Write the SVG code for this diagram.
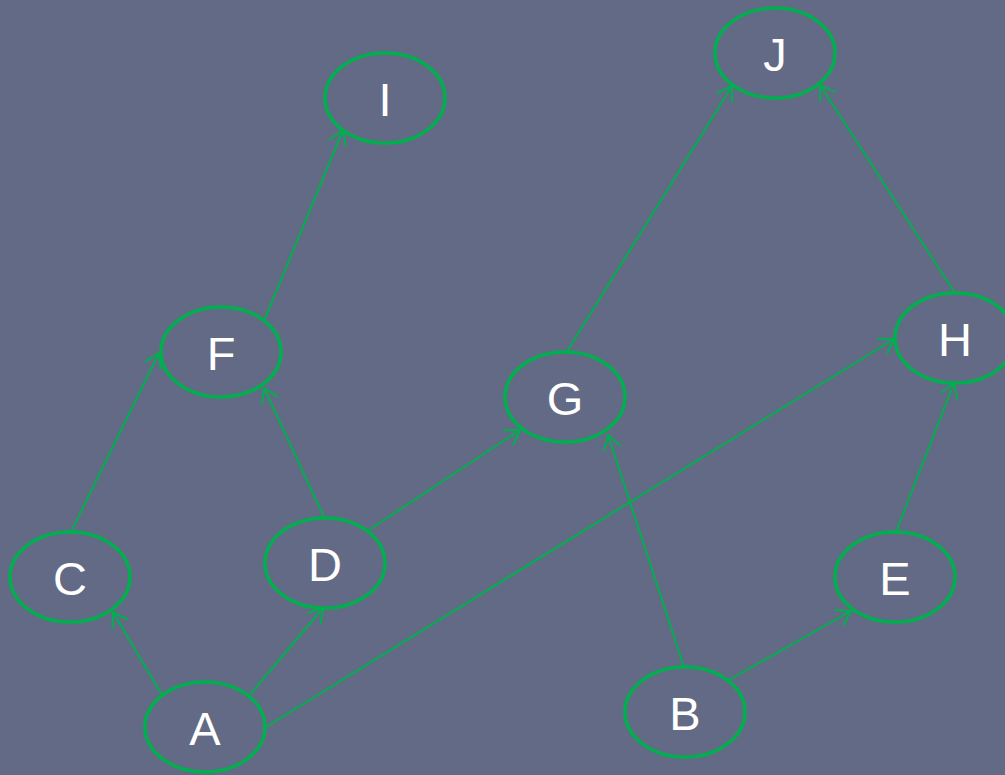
<svg xmlns="http://www.w3.org/2000/svg" width="1005" height="775" viewBox="0 0 1005 775">
<style>
.node ellipse{fill:none;stroke:#00b04f;stroke-width:3.5}
.node text{fill:#ffffff;font-family:"Liberation Sans",Arial,sans-serif;font-size:47px;text-anchor:middle}
.edge{fill:none;stroke:#00b04f;stroke-width:2;marker-end:url(#arr)}
</style>
<defs>
<marker id="arr" viewBox="-16 -11 18 22" refX="0" refY="0" markerUnits="userSpaceOnUse" markerWidth="18" markerHeight="22" orient="auto">
<path d="M-13.5,-8.5 L0,0 L-13.5,8.5" fill="none" stroke="#00b04f" stroke-width="2" stroke-linejoin="round" stroke-linecap="round"/>
</marker>
</defs>
<rect width="1005" height="775" fill="#636a85"/>
<g id="connectors">
<line class="edge" x1="162" y1="695" x2="113" y2="612"/>
<line class="edge" x1="248" y1="697" x2="323" y2="608"/>
<line class="edge" x1="266" y1="727" x2="894" y2="339"/>
<line class="edge" x1="71" y1="532" x2="159" y2="353"/>
<line class="edge" x1="324" y1="517" x2="264" y2="388"/>
<line class="edge" x1="369" y1="530" x2="520" y2="430"/>
<line class="edge" x1="264" y1="321" x2="343" y2="130"/>
<line class="edge" x1="566" y1="353" x2="732" y2="86"/>
<line class="edge" x1="684" y1="667" x2="608" y2="435"/>
<line class="edge" x1="729" y1="680" x2="851" y2="611"/>
<line class="edge" x1="896" y1="532" x2="954" y2="383"/>
<line class="edge" x1="955" y1="293" x2="820" y2="85"/>
</g>
<g id="node-A" class="node"><ellipse cx="205" cy="727" rx="60" ry="45"/><text x="205" y="745">A</text></g>
<g id="node-B" class="node"><ellipse cx="685" cy="712" rx="60" ry="45"/><text x="685" y="730">B</text></g>
<g id="node-C" class="node"><ellipse cx="70" cy="577" rx="60" ry="45"/><text x="70" y="595">C</text></g>
<g id="node-D" class="node"><ellipse cx="325" cy="563" rx="60" ry="45"/><text x="325" y="581">D</text></g>
<g id="node-E" class="node"><ellipse cx="895" cy="577" rx="60" ry="45"/><text x="895" y="595">E</text></g>
<g id="node-F" class="node"><ellipse cx="221" cy="352" rx="60" ry="45"/><text x="221" y="370">F</text></g>
<g id="node-G" class="node"><ellipse cx="565" cy="397" rx="60" ry="45"/><text x="565" y="415">G</text></g>
<g id="node-H" class="node"><ellipse cx="955" cy="338" rx="60" ry="45"/><text x="955" y="356">H</text></g>
<g id="node-I" class="node"><ellipse cx="385" cy="98" rx="60" ry="45"/><text x="385" y="116">I</text></g>
<g id="node-J" class="node"><ellipse cx="775" cy="53" rx="60" ry="45"/><text x="775" y="71">J</text></g>
</svg>
